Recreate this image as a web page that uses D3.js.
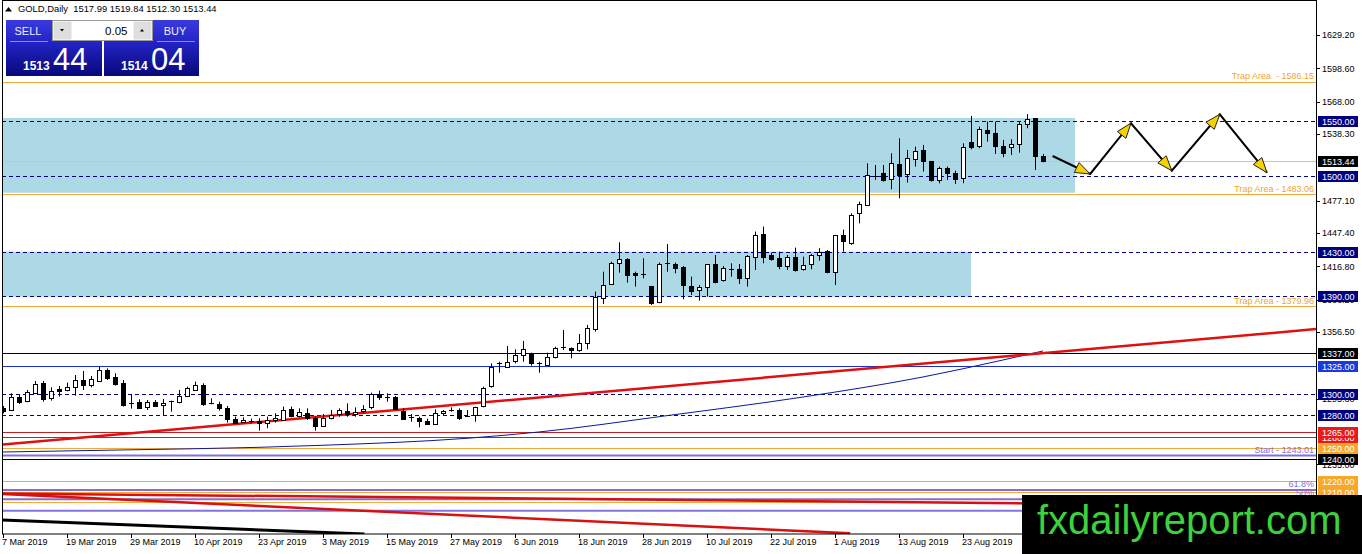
<!DOCTYPE html>
<html>
<head>
<meta charset="utf-8">
<script src="https://cdn.jsdelivr.net/npm/d3@7"></script>
<style>
  body { margin: 0; background: #fff; }
  svg { display: block; font-family: "Liberation Sans", Arial, sans-serif; }
</style>
</head>
<body>
<script>
// ---- data ----
const dateLabels = ["7 Mar 2019", "19 Mar 2019", "29 Mar 2019", "10 Apr 2019", "23 Apr 2019", "3 May 2019",
  "15 May 2019", "27 May 2019", "6 Jun 2019", "18 Jun 2019", "28 Jun 2019", "10 Jul 2019",
  "22 Jul 2019", "1 Aug 2019", "13 Aug 2019", "23 Aug 2019"];

const opens = [1286.4,1284.3,1296.8,1292.5,1300.2,1309.7,1296.2,1303.9,1302.6,1306.3,
  1312.1,1307.8,1311.8,1321.6,1315.5,1309.4,1291.0,1291.9,1287.3,1292.2,
  1289.2,1292.8,1291.9,1298.0,1303.3,1307.8,1291.0,1290.4,1286.4,1276.9,
  1273.6,1275.0,1275.1,1272.7,1275.1,1275.7,1286.1,1279.4,1282.5,1277.3,
  1269.6,1277.3,1281.2,1284.0,1281.2,1283.3,1287.3,1299.5,1296.5,1296.5,
  1284.3,1278.5,1277.2,1275.1,1272.6,1282.4,1284.9,1284.9,1279.4,1279.6,
  1287.9,1306.9,1327.7,1324.6,1330.2,1335.4,1336.9,1327.9,1326.2,1333.2,
  1342.1,1341.5,1339.3,1346.1,1359.0,1387.4,1400.3,1419.6,1423.3,1410.4,
  1409.8,1398.8,1383.5,1419.6,1418.7,1415.9,1398.8,1394.5,1397.6,1419.0,
  1403.7,1414.6,1414.1,1405.8,1425.7,1446.2,1427.2,1424.2,1417.1,1425.1,
  1414.1,1419.0,1427.2,1430.9,1412.0,1445.6,1438.0,1465.5,1473.2,1499.8,
  1502.3,1496.8,1510.5,1501.3,1516.0,1523.7,1513.6,1496.1,1506.9,1502.9,
  1497.7,1531.3,1526.7,1542.1,1539.6,1527.4,1526.7,1529.2,1547.6,1552.8,
  1517.99];
const highs = [1288.6,1300.2,1299.3,1303.3,1311.5,1311.5,1305.7,1306.9,1310.0,1317.0,
  1320.7,1316.1,1324.7,1323.1,1318.6,1312.4,1299.6,1294.7,1294.1,1294.1,
  1295.0,1293.5,1303.3,1306.3,1310.9,1309.4,1295.6,1292.5,1288.6,1278.8,
  1278.2,1277.0,1277.3,1278.8,1281.9,1288.0,1288.0,1286.4,1286.4,1278.8,
  1281.2,1284.9,1286.4,1291.0,1287.3,1289.4,1300.8,1302.6,1300.2,1297.7,
  1286.4,1281.2,1278.7,1276.9,1285.5,1284.9,1287.3,1286.4,1284.9,1287.9,
  1306.3,1327.7,1329.2,1343.6,1340.6,1348.3,1337.5,1329.2,1337.5,1343.0,
  1358.3,1342.4,1354.6,1363.0,1393.6,1411.9,1421.1,1438.9,1424.2,1411.9,
  1424.2,1398.8,1420.2,1437.3,1420.2,1417.1,1407.3,1399.7,1418.7,1427.2,
  1417.1,1419.6,1419.0,1427.2,1448.7,1453.3,1429.4,1430.3,1427.2,1434.0,
  1425.7,1428.2,1433.4,1431.8,1445.6,1450.5,1465.5,1476.2,1511.4,1509.9,
  1509.9,1520.6,1534.4,1523.7,1526.7,1528.3,1513.6,1508.4,1508.4,1504.7,
  1529.8,1554.9,1545.1,1549.7,1549.7,1532.9,1533.5,1549.7,1556.7,1552.8,
  1519.84];
const lows = [1281.8,1284.0,1290.4,1292.0,1299.8,1292.5,1293.5,1297.1,1302.0,1298.0,
  1303.3,1305.7,1311.0,1312.4,1307.2,1288.0,1286.1,1286.4,1284.9,1288.0,
  1280.3,1283.4,1291.0,1297.1,1302.3,1288.6,1290.1,1284.3,1273.3,1272.6,
  1273.6,1272.7,1265.9,1268.1,1273.3,1275.7,1278.2,1278.2,1275.7,1265.9,
  1269.6,1276.3,1278.7,1278.7,1278.7,1281.8,1285.5,1294.0,1292.5,1284.9,
  1275.7,1274.1,1269.0,1272.0,1272.6,1280.3,1283.3,1275.7,1278.8,1274.1,
  1287.3,1305.4,1319.1,1323.7,1327.7,1329.2,1325.6,1319.1,1326.2,1332.3,
  1339.9,1332.3,1338.4,1340.6,1356.8,1382.2,1399.7,1411.0,1401.8,1398.2,
  1405.8,1381.3,1382.9,1411.9,1410.4,1386.5,1390.5,1385.3,1389.0,1401.2,
  1402.8,1407.3,1400.6,1398.2,1413.5,1419.6,1422.0,1414.1,1413.5,1412.0,
  1412.9,1414.1,1422.0,1410.4,1399.7,1430.3,1436.5,1456.3,1472.3,1496.2,
  1494.6,1487.6,1479.3,1493.7,1508.4,1503.8,1494.6,1493.1,1496.1,1492.5,
  1493.1,1524.3,1525.2,1531.3,1520.0,1517.0,1519.1,1521.2,1543.6,1505.3,
  1512.30];
const closes = [1283.4,1296.5,1292.5,1301.1,1308.5,1295.3,1302.3,1302.3,1305.7,1312.4,
  1307.8,1313.4,1321.6,1314.6,1308.8,1289.2,1290.4,1286.4,1291.9,1288.9,
  1291.0,1292.5,1297.7,1305.4,1307.8,1290.4,1290.1,1286.4,1276.6,1273.6,
  1275.7,1274.5,1273.3,1275.7,1277.3,1284.9,1279.4,1283.4,1278.2,1269.6,
  1277.3,1280.3,1284.9,1281.2,1283.0,1285.5,1299.5,1296.5,1296.3,1285.8,
  1276.6,1278.7,1274.1,1272.6,1282.4,1284.3,1284.6,1277.8,1279.5,1287.3,
  1304.7,1324.6,1328.0,1329.2,1335.4,1340.9,1327.7,1327.7,1333.2,1341.5,
  1342.4,1339.3,1346.1,1359.9,1388.4,1399.7,1419.6,1423.3,1408.3,1408.9,
  1409.6,1383.5,1418.7,1418.9,1415.0,1399.4,1394.5,1397.6,1418.7,1402.8,
  1415.0,1414.0,1405.8,1426.3,1445.6,1425.1,1423.3,1417.1,1425.1,1413.5,
  1418.1,1427.2,1430.3,1412.0,1445.6,1440.4,1464.0,1473.8,1500.7,1499.5,
  1496.2,1511.4,1500.7,1516.0,1523.1,1513.6,1496.1,1506.9,1502.3,1497.7,
  1526.1,1526.7,1542.7,1539.0,1527.4,1520.6,1529.2,1547.6,1551.9,1518.2,
  1513.44];

// moving average, knots
const maIdx = [0, 15, 32, 40, 58, 67, 83, 100, 115, 125, 130];
const maVals = [1246.3, 1248.2, 1250.6, 1252.5, 1258.9, 1264.7, 1279.7, 1296.8, 1315.2, 1330.8, 1339.1];

// axis ticks that are visible (others sit under the price boxes)
const priceTicks = [1629.2, 1598.6, 1568.0, 1538.3, 1477.1, 1447.4, 1416.8, 1386.2,
  1356.5, 1295.3, 1235.0];

const navyLevels = [1550, 1500, 1430, 1390, 1300, 1280];
const blackLevels = [1337, 1240];
const blueLevels = [1325];
const redLevels = [1260, 1265];
const orangeLevels = [1250, 1220, 1210];
const lastPrice = 1513.44;
const trapLevels = [1586.15, 1483.06, 1379.96];
const startLevel = 1243.01;
const fibLevels = [1211.4, 1202.9];
const fibNames = ["61.8%", "50%"];
const purpleLevels = [1192.4];
const lowOrange = [1200.7];

// zones (light blue boxes)
const zoneTop = [1553.0, 1430.3];
const zoneBottom = [1484.4, 1389.0];
const zoneEnd = [134, 121];

// trend lines: [idx0, price0, idx1, price1]
const redTrend = [0, 1253.1, 130, 1337.1];
const redLowA = [-0.4, 1208.3, 127.1, 1199.2];
const redLowB = [-0.4, 1207.8, 105.9, 1171.6];
const blackLow = [-0.4, 1183.9, 48.4, 1170.1];

// projected zigzag
const pathIdx = [131.2, 135.9, 141, 146.1, 152.1, 158];
const pathPrices = [1518.1, 1501.6, 1548.2, 1504.6, 1556.4, 1502.8];

// ---- drawing ----
const W = 1362, H = 554;
const pl = 2, pr = 1316, pt = 1, pb = 534;

const x = d3.scaleLinear().domain([0, 130]).range([3, 1043]);
const y = d3.scaleLinear().domain([1170, 1660]).range([535.1, 1.5]);
const yc = v => Math.round(y(v)) + 0.5;
const xc = i => Math.round(x(i)) + 0.5;

const svg = d3.select("body").append("svg").attr("width", W).attr("height", H);
const defs = svg.append("defs");
defs.append("clipPath").attr("id", "plotclip")
  .append("rect").attr("x", pl).attr("y", pt).attr("width", pr - pl).attr("height", pb - pt);
const grad = defs.append("linearGradient").attr("id", "panelGrad")
  .attr("x1", 0).attr("y1", 0).attr("x2", 0).attr("y2", 1);
grad.append("stop").attr("offset", "0%").attr("stop-color", "#3a3ade");
grad.append("stop").attr("offset", "40%").attr("stop-color", "#2323c6");
grad.append("stop").attr("offset", "100%").attr("stop-color", "#08087a");

svg.append("rect").attr("width", W).attr("height", H).attr("fill", "#fff");

const plot = svg.append("g").attr("clip-path", "url(#plotclip)");

// zones
plot.selectAll(".zone").data(zoneTop).enter().append("rect")
  .attr("x", pl)
  .attr("y", d => y(d))
  .attr("width", (d, i) => x(zoneEnd[i]) - pl)
  .attr("height", (d, i) => y(zoneBottom[i]) - y(d))
  .attr("fill", "#add8e6");

function hline(g, vals, color, width, dash) {
  g.selectAll(null).data(vals).enter().append("line")
    .attr("x1", pl).attr("x2", pr)
    .attr("y1", d => width > 1 ? y(d) : yc(d))
    .attr("y2", d => width > 1 ? y(d) : yc(d))
    .attr("stroke", color).attr("stroke-width", width)
    .attr("stroke-dasharray", dash || null);
}

hline(plot, trapLevels, "#f2aa3a", 1);
hline(plot, orangeLevels, "#f2aa3a", 1);
hline(plot, lowOrange, "#f2aa3a", 1);
hline(plot, purpleLevels, "#8474e0", 2);
hline(plot, fibLevels, "#8e6cc0", 2);
hline(plot, [lastPrice], "#c4c4c4", 1);
hline(plot, navyLevels, "#000080", 1, "4,3");
hline(plot, blackLevels, "#000", 1);
hline(plot, blueLevels, "#1a2ec8", 1);
hline(plot, redLevels, "#c42020", 1);
hline(plot, [startLevel], "#8070dc", 2);

// trend lines, ends computed inside the plot frame
function trend(t, color, width, extend) {
  const slope = (t[3] - t[1]) / (t[2] - t[0]);
  let i1 = extend ? x.invert(pr) : t[2];
  let p1 = t[1] + slope * (i1 - t[0]);
  const pMin = y.invert(pb);
  if (p1 < pMin) { i1 = t[0] + (pMin - t[1]) / slope; p1 = pMin; }
  plot.append("line")
    .attr("x1", Math.max(pl, x(t[0]))).attr("y1", y(t[1] + slope * (x.invert(Math.max(pl, x(t[0]))) - t[0])))
    .attr("x2", x(i1)).attr("y2", y(p1))
    .attr("stroke", color).attr("stroke-width", width);
}
trend(redLowA, "#d81010", 2.5, true);
trend(redLowB, "#d81010", 2.5, false);
trend(blackLow, "#000", 3, true);

// moving average
plot.append("path")
  .datum(maIdx.map((d, i) => [d, maVals[i]]))
  .attr("fill", "none").attr("stroke", "#0a1a9a").attr("stroke-width", 1)
  .attr("d", d3.line().x(d => x(d[0])).y(d => y(d[1])).curve(d3.curveMonotoneX));

trend(redTrend, "#e01010", 2.5, true);

// candles
const candles = plot.append("g");
opens.forEach((o, i) => {
  const c = closes[i], h = highs[i], l = lows[i];
  const cx = xc(i);
  candles.append("line").attr("x1", cx).attr("x2", cx)
    .attr("y1", y(h)).attr("y2", y(l)).attr("stroke", "#000").attr("stroke-width", 1);
  const top = y(Math.max(o, c)), bot = y(Math.min(o, c));
  if (bot - top < 1.2) {
    const yy = Math.round(top) + 0.5;
    candles.append("line").attr("x1", cx - 2.5).attr("x2", cx + 2.5)
      .attr("y1", yy).attr("y2", yy).attr("stroke", "#000");
  } else if (c >= o) {
    candles.append("rect").attr("x", cx - 2).attr("y", Math.round(top) + 0.5)
      .attr("width", 4).attr("height", Math.max(1, Math.round(bot - top)))
      .attr("fill", "#fff").attr("stroke", "#000").attr("stroke-width", 1);
  } else {
    candles.append("rect").attr("x", cx - 2.5).attr("y", Math.round(top))
      .attr("width", 5).attr("height", Math.max(1, Math.round(bot - top)) + 1)
      .attr("fill", "#000");
  }
});

// zigzag projection with arrows
const pts = pathIdx.map((d, i) => [x(d), y(pathPrices[i])]);
plot.append("path").datum(pts)
  .attr("fill", "none").attr("stroke", "#000").attr("stroke-width", 2)
  .attr("d", d3.line());
for (let k = 1; k < pts.length; k++) {
  const [x0, y0] = pts[k - 1], [x1, y1] = pts[k];
  const len = Math.hypot(x1 - x0, y1 - y0);
  const ux = (x1 - x0) / len, uy = (y1 - y0) / len;
  const bx = x1 - ux * 15, by = y1 - uy * 15;
  const px = -uy * 5.5, py = ux * 5.5;
  plot.append("path")
    .attr("d", `M${x1},${y1}L${bx + px},${by + py}L${bx - px},${by - py}Z`)
    .attr("fill", "#f6d200").attr("stroke", "#222").attr("stroke-width", 1);
}

// object texts
const txt = svg.append("g").attr("font-size", 9);
txt.selectAll(null).data(trapLevels).enter().append("text")
  .attr("x", 1314).attr("y", d => y(d) - 2.5).attr("text-anchor", "end")
  .attr("fill", "#f0a532").style("white-space", "pre")
  .text((d, i) => "Trap Area " + (i === 0 ? " " : "") + "- " + d.toFixed(2));
txt.append("text").attr("x", 1314).attr("y", y(startLevel) - 3).attr("text-anchor", "end")
  .attr("fill", "#8070dc").text("Start - " + startLevel.toFixed(2));
txt.selectAll(null).data(fibLevels).enter().append("text")
  .attr("x", 1314).attr("y", d => y(d) - 3).attr("text-anchor", "end")
  .attr("fill", "#8070dc").text((d, i) => fibNames[i]);

// frame and axes
svg.append("rect").attr("x", pl + 0.5).attr("y", pt - 0.5).attr("width", pr - pl).attr("height", pb - pt + 0.5)
  .attr("fill", "none").attr("stroke", "#000").attr("stroke-width", 1);

const axis = svg.append("g").attr("font-size", 9);
axis.selectAll(null).data(priceTicks).enter().append("line")
  .attr("x1", pr + 0.5).attr("x2", pr + 4).attr("y1", d => yc(d)).attr("y2", d => yc(d))
  .attr("stroke", "#000");
axis.selectAll(null).data(priceTicks).enter().append("text")
  .attr("x", 1322).attr("y", d => y(d) + 3.3).attr("fill", "#000")
  .text(d => d.toFixed(2));

const tickIdx = dateLabels.map((d, i) => i * 8);
axis.selectAll(null).data(tickIdx).enter().append("line")
  .attr("x1", d => xc(d)).attr("x2", d => xc(d)).attr("y1", pb).attr("y2", pb + 4)
  .attr("stroke", "#000");
axis.selectAll(null).data(tickIdx).enter().append("text")
  .attr("x", d => x(d) - 1).attr("y", 545).attr("fill", "#000")
  .text((d, i) => dateLabels[i]);

// price label boxes on the axis
function boxes(vals, color) {
  const g = axis.append("g");
  vals.forEach(v => {
    const yy = Math.round(y(v));
    g.append("rect").attr("x", 1318).attr("y", yy - 5).attr("width", 40).attr("height", 11)
      .attr("fill", color);
    g.append("text").attr("x", 1322).attr("y", yy + 3.5).attr("fill", "#fff").text(v.toFixed(2));
  });
}
boxes(navyLevels, "#000080");
boxes([lastPrice], "#000");
boxes(blueLevels, "#1a3ae0");
boxes(redLevels, "#ea1a1a");
boxes(orangeLevels, "#f7a828");
boxes(blackLevels, "#000");

// header line
svg.append("path").attr("d", "M5,11.5L8.5,7L12,11.5Z").attr("fill", "#000");
svg.append("text").attr("x", 18).attr("y", 12).attr("font-size", 9.4).attr("fill", "#000")
  .style("white-space", "pre")
  .text("GOLD,Daily  1517.99 1519.84 1512.30 1513.44");

// one click trading panel
const panel = svg.append("g");
panel.append("rect").attr("x", 6).attr("y", 20).attr("width", 96).attr("height", 56).attr("fill", "url(#panelGrad)");
panel.append("rect").attr("x", 104).attr("y", 20).attr("width", 95).attr("height", 56).attr("fill", "url(#panelGrad)");
panel.append("rect").attr("x", 52.5).attr("y", 20.5).attr("width", 100).attr("height", 20)
  .attr("fill", "#fff").attr("stroke", "#9a9a9a");
panel.append("rect").attr("x", 53.5).attr("y", 21.5).attr("width", 18).attr("height", 18).attr("fill", "#dedede");
panel.append("rect").attr("x", 133.5).attr("y", 21.5).attr("width", 18).attr("height", 18).attr("fill", "#dedede");
panel.append("path").attr("d", "M60,29L64,29L62,31.5Z").attr("fill", "#000");
panel.append("path").attr("d", "M140,31.5L144,31.5L142,29Z").attr("fill", "#000");
panel.append("text").attr("x", 127.5).attr("y", 35).attr("text-anchor", "end").attr("font-size", 11.5)
  .attr("fill", "#000").text("0.05");
panel.append("text").attr("x", 28).attr("y", 35).attr("text-anchor", "middle").attr("font-size", 11)
  .attr("fill", "#f0f0ff").text("SELL");
panel.append("text").attr("x", 175).attr("y", 35).attr("text-anchor", "middle").attr("font-size", 11)
  .attr("fill", "#f0f0ff").text("BUY");
panel.append("line").attr("x1", 10).attr("x2", 48).attr("y1", 41.5).attr("y2", 41.5).attr("stroke", "#8a8af0");
panel.append("line").attr("x1", 157).attr("x2", 195).attr("y1", 41.5).attr("y2", 41.5).attr("stroke", "#8a8af0");
panel.append("text").attr("x", 23).attr("y", 70).attr("font-size", 12).attr("font-weight", "bold")
  .attr("fill", "#fff").text("1513");
panel.append("text").attr("x", 53).attr("y", 70).attr("font-size", 31).attr("fill", "#fff").text("44");
panel.append("text").attr("x", 121).attr("y", 70).attr("font-size", 12).attr("font-weight", "bold")
  .attr("fill", "#fff").text("1514");
panel.append("text").attr("x", 151).attr("y", 70).attr("font-size", 31).attr("fill", "#fff").text("04");

// watermark
svg.append("rect").attr("x", 1022).attr("y", 495).attr("width", W - 1022).attr("height", H - 495).attr("fill", "#000");
svg.append("text").attr("x", 1037).attr("y", 534).attr("font-size", 40).attr("fill", "#3cd23c")
  .text("fxdailyreport.com");
</script>
</body>
</html>
